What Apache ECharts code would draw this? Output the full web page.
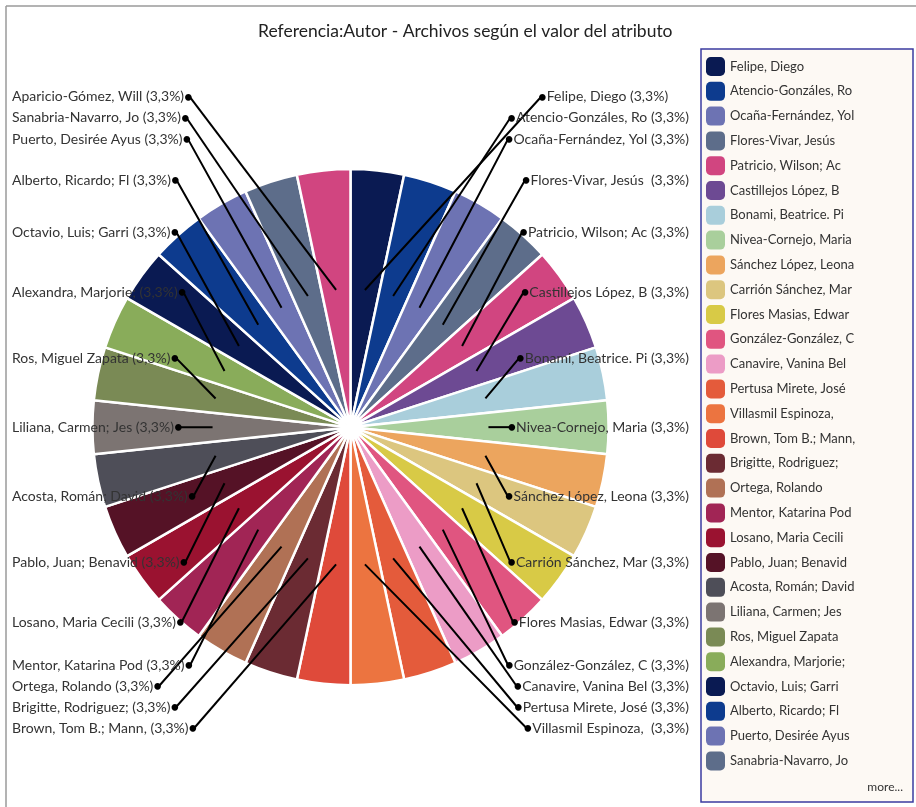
<!DOCTYPE html>
<html>
<head>
<meta charset="utf-8">
<script src="https://cdn.jsdelivr.net/npm/echarts@6/dist/echarts.min.js"></script>
<style>
  html, body { margin: 0; padding: 0; background: #fff; }
  #chart { width: 916px; height: 807px; }
</style>
</head>
<body>
<div id="chart"></div>
<script>
// ---- data ----
const titleText = 'Referencia:Autor - Archivos según el valor del atributo';
const names = [
  'Felipe, Diego', 'Atencio-Gonzáles, Ro', 'Ocaña-Fernández, Yol', 'Flores-Vivar, Jesús ',
  'Patricio, Wilson; Ac', 'Castillejos López, B', 'Bonami, Beatrice. Pi', 'Nivea-Cornejo, Maria',
  'Sánchez López, Leona', 'Carrión Sánchez, Mar', 'Flores Masias, Edwar', 'González-González, C',
  'Canavire, Vanina Bel', 'Pertusa Mirete, José', 'Villasmil Espinoza, ', 'Brown, Tom B.; Mann,',
  'Brigitte, Rodriguez;', 'Ortega, Rolando', 'Mentor, Katarina Pod', 'Losano, Maria Cecili',
  'Pablo, Juan; Benavid', 'Acosta, Román; David', 'Liliana, Carmen; Jes', 'Ros, Miguel Zapata',
  'Alexandra, Marjorie;', 'Octavio, Luis; Garri', 'Alberto, Ricardo; Fl', 'Puerto, Desirée Ayus',
  'Sanabria-Navarro, Jo', 'Aparicio-Gómez, Will'
];
const values = [1,1,1,1,1,1,1,1,1,1,1,1,1,1,1,1,1,1,1,1,1,1,1,1,1,1,1,1,1,1];
const palette = [
  '#0a1a52', '#0d3b8e', '#6d73b3', '#5d6d8a', '#d14580', '#6d4a93', '#a9cedb', '#a9cf9c',
  '#eca55e', '#dcc67f', '#d8ca46', '#e05580', '#ec9cc6', '#e45b3b', '#ec7440', '#df4a3a',
  '#6b2b33', '#b07155', '#a12555', '#9a1230', '#551226', '#4e4e58', '#7c7472', '#7a8a55',
  '#89ac5a'
];
const legendCount = 29;
const moreText = 'more...';

// ---- layout ----
const FONT = 'Lato, "Noto Sans", sans-serif';
const box = { left: 7, top: 80, width: 687, height: 660 };
const centerPct = [0.5, 0.526];
const CX = box.left + box.width * centerPct[0];
const CY = box.top + box.height * centerPct[1];
const R_LABEL = 332;       // radius where labels would naturally sit
const LABEL_H = 21;        // label line height
const BOTTOM_LIMIT = 728;  // lowest label centre
const LEFT_EDGE = 12;
const RIGHT_EDGE = 689;
const RIGHT_COL = 538;
const rightCount = 15;

// natural label heights from slice mid-angles, then de-overlap per side
const total = values.reduce((a, b) => a + b, 0);
let acc = 0;
const midAngles = values.map(v => { const m = (acc + v / 2) / total * 2 * Math.PI; acc += v; return m; });
const naturalY = midAngles.map(a => CY - R_LABEL * Math.cos(a));
const labelY = new Array(values.length);
function stackSide(idxs) {
  const ys = idxs.map(i => naturalY[i]);
  for (let k = 1; k < ys.length; k++) ys[k] = Math.max(ys[k], ys[k - 1] + LABEL_H);
  ys[ys.length - 1] = Math.min(ys[ys.length - 1], BOTTOM_LIMIT);
  for (let k = ys.length - 2; k >= 0; k--) ys[k] = Math.min(ys[k], ys[k + 1] - LABEL_H);
  idxs.forEach((i, k) => { labelY[i] = ys[k]; });
}
const rightIdx = [], leftIdx = [];
for (let i = 0; i < values.length; i++) (i < rightCount ? rightIdx : leftIdx).push(i);
leftIdx.reverse();
stackSide(rightIdx);
stackSide(leftIdx);

const pieData = names.map((n, i) => ({ name: n, value: values[i] }));
const chart = echarts.init(document.getElementById('chart'), null, { renderer: 'canvas' });
const center = [(centerPct[0] * 100) + '%', (centerPct[1] * 100) + '%'];

const option = {
  animation: false,
  color: palette,
  textStyle: { fontFamily: FONT },
  title: {
    text: titleText,
    left: 253,
    top: 17,
    textStyle: { fontFamily: FONT, fontSize: 17.5, fontWeight: 'normal', color: '#222' }
  },
  graphic: [
    { type: 'line', shape: { x1: 6, y1: 6, x2: 916, y2: 6 }, style: { stroke: '#9a9a9a', lineWidth: 1.5 }, silent: true },
    { type: 'line', shape: { x1: 6, y1: 6, x2: 6, y2: 807 }, style: { stroke: '#9a9a9a', lineWidth: 1.5 }, silent: true },
    { type: 'rect', shape: { x: 701, y: 49, width: 212, height: 753 }, style: { fill: '#fdf9f4', stroke: '#3b3ba0', lineWidth: 1.5 }, z: -10, silent: true },
    { type: 'text', x: 903, y: 787, style: { text: moreText, fill: '#333', font: '12px ' + FONT, textAlign: 'right', textVerticalAlign: 'middle' }, silent: true }
  ],
  legend: {
    orient: 'vertical',
    left: 706,
    top: 57,
    height: 745,
    padding: 0,
    itemWidth: 19,
    itemHeight: 19,
    itemGap: 5.8,
    icon: 'roundRect',
    selectedMode: false,
    itemStyle: { borderWidth: 0 },
    data: names.slice(0, legendCount),
    textStyle: { fontFamily: FONT, fontSize: 13, color: '#333' }
  },
  series: [
    {
      type: 'pie',
      left: box.left, top: box.top, width: box.width, height: box.height,
      center: center,
      radius: [0, '78.2%'],
      startAngle: 90,
      clockwise: true,
      z: 2,
      silent: true,
      label: { show: false },
      labelLine: { show: false },
      itemStyle: { borderColor: '#ffffff', borderWidth: 2.5 },
      emphasis: { disabled: true },
      data: pieData
    },
    {
      type: 'pie',
      left: box.left, top: box.top, width: box.width, height: box.height,
      center: center,
      radius: [0, '41.8%'],
      startAngle: 90,
      clockwise: true,
      z: 5,
      silent: true,
      avoidLabelOverlap: false,
      itemStyle: { color: 'rgba(0,0,0,0)', borderWidth: 0 },
      emphasis: { disabled: true },
      label: {
        show: true,
        position: 'outside',
        alignTo: 'edge',
        edgeDistance: 5,
        distanceToLabelLine: 0,
        fontFamily: FONT,
        fontSize: 14,
        color: '#333',
        lineHeight: LABEL_H,
        formatter: function (p) {
          const pct = p.percent.toFixed(1).replace('.', ',');
          const txt = p.name + ' (' + pct + '%)';
          return p.dataIndex < rightCount ? '{dot|•}' + txt : txt + '{dot|•}';
        },
        rich: {
          dot: { color: '#000', fontSize: 15, fontWeight: 'bold', lineHeight: LABEL_H, fontFamily: FONT }
        }
      },
      labelLine: {
        show: true,
        length: 194,
        length2: -400,
        lineStyle: { color: '#000', width: 2 }
      },
      labelLayout: function (params) {
        const i = params.dataIndex;
        const r = params.labelRect;
        const w = r.width;
        const isRight = i < rightCount;
        const x = isRight ? Math.min(RIGHT_COL, RIGHT_EDGE - w) : LEFT_EDGE;
        const y = labelY[i];
        const res = { x: x, y: y, align: 'left', verticalAlign: 'middle' };
        const pts = params.labelLinePoints;
        if (pts && pts.length) {
          const s = pts[0];
          const endX = isRight ? x + 3 : x + w - 3;
          const endY = y;
          res.labelLinePoints = [[s[0], s[1]], [(s[0] + endX) / 2, (s[1] + endY) / 2], [endX, endY]];
        }
        return res;
      },
      data: pieData
    }
  ]
};

chart.setOption(option);
</script>
</body>
</html>
